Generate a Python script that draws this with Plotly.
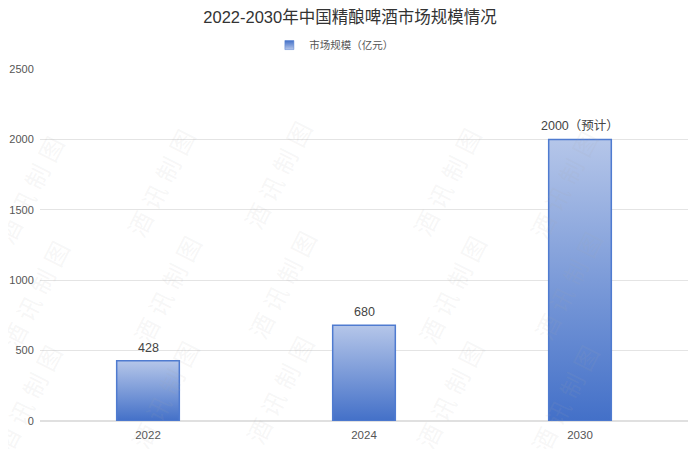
import plotly.graph_objects as go

years = ["2022", "2024", "2030"]
market_size = [428, 680, 2000]
bar_labels = ["428", "680", "2000（预计）"]
series_name = "市场规模（亿元）"
title_text = "2022-2030年中国精酿啤酒市场规模情况"
y_ticks = [0, 500, 1000, 1500, 2000, 2500]

FONT = "Liberation Sans, Noto Sans CJK SC, sans-serif"
BAR_WIDTH = 0.29
positions = list(range(len(years)))

# the page sits 8px in from the window edge
PAGE_OFFSET = 8
PLOT_LEFT, PLOT_TOP, PLOT_W, PLOT_H = 40, 69, 648, 352

# watermark centres in window pixels
mark_x = [-10, 121, 279, 448, 606, -5, 127, 283, 453, 610, -12, 125, 281, 451, 607]
mark_y = [130, 123, 115, 122, 125, 295, 290, 285, 290, 286, 460, 456, 451, 456, 460]

fig = go.Figure()

fig.add_trace(go.Bar(x=positions, y=market_size, width=BAR_WIDTH, showlegend=False,
                     marker=dict(color="#6f92d8", line=dict(width=0))))

# plotly bars have no gradient fill, so lay a gradient area over each bar
for pos, value in zip(positions, market_size):
    left = pos - BAR_WIDTH / 2
    right = pos + BAR_WIDTH / 2
    fig.add_trace(go.Scatter(x=[left, left, right, right, left], y=[0, value, value, 0, 0],
                             mode="lines", fill="toself", showlegend=False, hoverinfo="skip",
                             line=dict(color="#4f7bd0", width=1.5),
                             fillgradient=dict(type="vertical",
                                               colorscale=[[0, "#4370c8"], [1, "#b5c6e9"]])))

# legend entry only, with a small gradient square
fig.add_trace(go.Scatter(x=[None], y=[None], mode="markers", name=series_name,
                         marker=dict(symbol="square", size=9, color="#4370c8",
                                     gradient=dict(type="vertical", color="#b5c6e9"),
                                     line=dict(color="#4f7bd0", width=0.5))))

for pos, value, label in zip(positions, market_size, bar_labels):
    fig.add_annotation(text=label, x=pos, y=value, showarrow=False, yanchor="bottom", yshift=4,
                       font=dict(size=12.5, color="#444444", family=FONT))

for mx, my in zip(mark_x, mark_y):
    fig.add_annotation(text="酒 讯 制 图", xref="paper", yref="paper",
                       x=(mx - PLOT_LEFT) / PLOT_W, y=1 - (my - PLOT_TOP) / PLOT_H,
                       showarrow=False, textangle=-63,
                       font=dict(size=24, color="rgba(170,170,170,0.11)", family=FONT))

fig.update_xaxes(range=[-0.5, 2.5], tickvals=positions, ticktext=years, showgrid=False,
                 automargin=False, zeroline=False, showline=False,
                 ticks="outside", ticklen=3, tickcolor="rgba(0,0,0,0)",
                 tickfont=dict(size=11.5, color="#555555", family=FONT))
fig.update_yaxes(range=[0, 2500], tickvals=y_ticks, gridcolor="#e4e4e4", gridwidth=1,
                 automargin=False, zeroline=True, zerolinecolor="#e0e0e0", zerolinewidth=1.5,
                 showline=False, ticks="outside", ticklen=3, tickcolor="rgba(0,0,0,0)",
                 tickfont=dict(size=11, color="#555555", family=FONT))
fig.update_layout(width=700, height=449, autosize=False,
                  margin=dict(l=PLOT_LEFT - PAGE_OFFSET, r=20, t=PLOT_TOP - PAGE_OFFSET, b=36),
                  paper_bgcolor="white", plot_bgcolor="white",
                  font=dict(family=FONT),
                  title=dict(text=title_text, x=342 / 700, xanchor="center",
                             y=1 - 9 / 449, yanchor="middle",
                             font=dict(size=16.5, color="#333333", family=FONT)),
                  legend=dict(orientation="h", x=0.4535, xanchor="center", y=1.068, yanchor="middle",
                              font=dict(size=10.5, color="#555555", family=FONT),
                              bgcolor="rgba(0,0,0,0)"))

fig.write_html("out.html")
